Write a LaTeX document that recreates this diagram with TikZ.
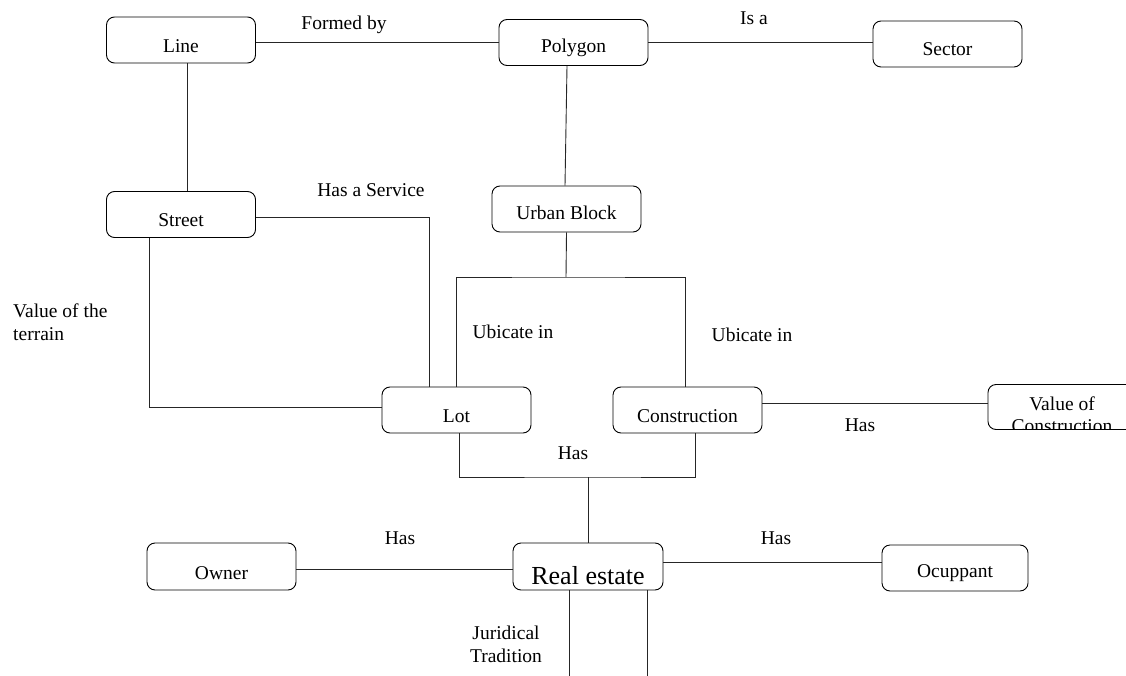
\documentclass[tikz,border=0pt]{standalone}
\usepackage{fontspec}
\setmainfont{Liberation Serif}
\newcommand\lowtxt[2]{\raisebox{-#1}[\height][\depth]{#2}}
\begin{document}
\begin{tikzpicture}[x=1pt,y=-1pt,
  box/.style={draw=black,line width=0.9pt,rounded corners=8pt,minimum width=149pt,minimum height=46pt,inner sep=0pt,font=\fontsize{19.5}{23}\selectfont},
  lbl/.style={font=\fontsize{19.5}{23}\selectfont,inner sep=0pt},
  conn/.style={draw=black!85,line width=0.9pt}]
\useasboundingbox (0,0) rectangle (1126,676);
\clip (0,0) rectangle (1126,676);
% boxes
\node[box] (line) at (181,40) {\lowtxt{6pt}{Line}};
\node[box] (poly) at (573.5,42.5) {\lowtxt{5pt}{Polygon}};
\node[box] (sector) at (947.5,44) {\lowtxt{5pt}{Sector}};
\node[box] (street) at (181,214.5) {\lowtxt{5.5pt}{Street}};
\node[box] (urban) at (566.5,209) {\lowtxt{4pt}{Urban Block}};
\node[box] (lot) at (456.5,410) {\lowtxt{6pt}{Lot}};
\node[box] (cons) at (687.5,410) {\lowtxt{6pt}{Construction}};
\node[box,minimum height=45pt] (value) at (1062.5,407) {};
\begin{scope}
  \clip (988,386) rectangle (1126,428.5);
  \node[lbl,align=center,font=\fontsize{19.5}{22}\selectfont] (valuetxt) at (1062,415) {Value of\\Construction};
\end{scope}
\node[box,minimum height=47pt] (owner) at (221.5,566.5) {\lowtxt{6.5pt}{Owner}};
\node[box,minimum height=47pt,minimum width=150pt,font=\fontsize{26}{31}\selectfont] (real) at (588,566.5) {\lowtxt{9.5pt}{Real estate}};
\node[box,minimum width=146pt] (occ) at (955,568) {\lowtxt{5pt}{Ocuppant}};
% labels
\node[lbl] (l1) at (344,25) {Formed by};
\node[lbl] (l2) at (754,18) {Is a};
\node[lbl] (l3) at (371,190) {Has a Service};
\node[lbl,anchor=west,align=left] (l4) at (13,322) {Value of the\\terrain};
\node[lbl] (l5) at (513,332) {Ubicate in};
\node[lbl] (l6) at (752,335) {Ubicate in};
\node[lbl] (l7) at (860,425) {Has};
\node[lbl] (l8) at (573,453) {Has};
\node[lbl] (l9) at (400,538) {Has};
\node[lbl] (l10) at (776,538) {Has};
\node[lbl,align=center] (l11) at (506,644) {Juridical\\Tradition};
% coordinates
\coordinate (ubj) at (566,277);
\coordinate (hj) at (588,477);
\coordinate (rb1) at (569,676);
\coordinate (rb2) at (647,676);
% connectors
\draw[conn] ([yshift=-2pt]line.east) -- ([yshift=-2pt]line.east -| poly.west);
\draw[conn] (poly.east) -- (poly.east -| sector.west);
\draw[conn] ([xshift=6pt]line.south) -- ([xshift=6pt]street.north);
\draw[conn] ([xshift=-6.5pt]poly.south) -- ([xshift=-1.5pt]urban.north);
\draw[conn] (urban.south) -- (ubj);
\draw[conn] (lot.north) |- (ubj) -| ([xshift=-2.5pt]cons.north);
\draw[conn] ([yshift=-2.5pt]street.east) -| ([xshift=-27.5pt]lot.north);
\draw[conn] ([xshift=-32pt]street.south) |- ([yshift=3pt]lot.west);
\draw[conn] ([yshift=7pt]cons.east) -- ([yshift=7pt]cons.east -| value.west);
\draw[conn] ([xshift=2.5pt]lot.south) |- (hj) -| ([xshift=7.5pt]cons.south);
\draw[conn] (hj) -- (real.north);
\draw[conn] ([yshift=-2.5pt]owner.east) -- ([yshift=-2.5pt]owner.east -| real.west);
\draw[conn] ([yshift=4.5pt]real.east) -- ([yshift=4.5pt]real.east -| occ.west);
\draw[conn] ([xshift=-19pt]real.south) -- (rb1);
\draw[conn] ([xshift=59pt]real.south) -- (rb2);
\end{tikzpicture}
\end{document}
